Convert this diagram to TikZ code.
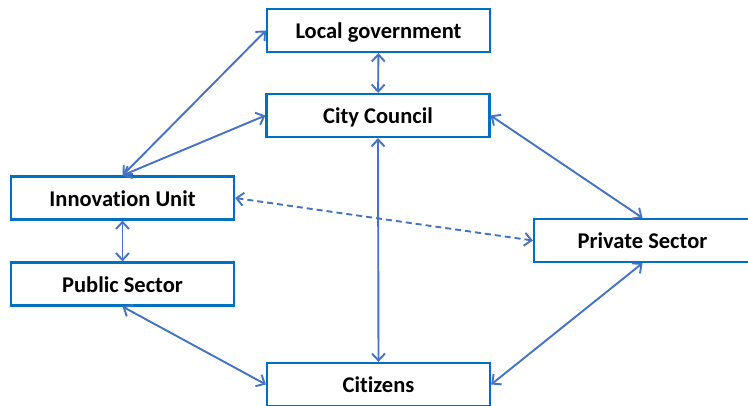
\documentclass[tikz,border=0pt]{standalone}
\usepackage{fontspec}
\setmainfont{Carlito}[Ligatures=NoCommon]
\usetikzlibrary{arrows.meta}
\definecolor{boxblue}{HTML}{0070C0}
\definecolor{arrowblue}{HTML}{4472C4}
\begin{document}
\begin{tikzpicture}[
        x=1pt, y=-1pt,
        box/.style={draw=boxblue, line width=2.2pt, minimum width=223pt,
            minimum height=43pt, inner sep=0pt, text height=17pt, text depth=1pt,
            font=\bfseries\fontsize{22.5}{27}\selectfont},
        link/.style={arrowblue, line width=1.9pt,
            {Straight Barb[length=7pt,width=13pt]}-{Straight Barb[length=7pt,width=13pt]}},
    ]
        \useasboundingbox (0,0) rectangle (748,405);
        \node[box] (lg) at (378.5,30.5) {Local government};
        \node[box] (cc) at (378,115.5) {City Council};
        \node[box] (iu) at (122.5,198) {Innovation Unit};
        \node[box] (ps) at (122.5,284) {Public Sector};
        \node[box, minimum width=217pt] (pv) at (642.5,240.5) {Private Sector};
        \node[box] (ci) at (378.5,384.5) {Citizens};

        \draw[link] (lg) -- (cc);
        \draw[link] (iu.north) -- (lg.west);
        \draw[link] (iu.north) -- (cc.west);
        \draw[link] (iu) -- (ps);
        \draw[link, dash pattern=on 6pt off 4pt] (iu.east) -- (pv.west);
        \draw[link] (cc.south) -- (ci.north);
        \draw[link] (cc.east) -- (pv.north);
        \draw[link] (pv.south) -- (ci.east);
        \draw[link] (ps.south) -- (ci.west);
    \end{tikzpicture}
\end{document}
